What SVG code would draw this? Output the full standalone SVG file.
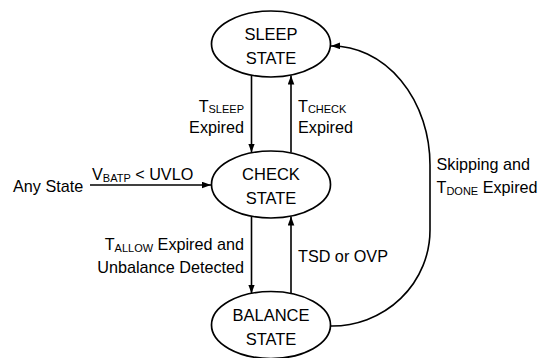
<svg xmlns="http://www.w3.org/2000/svg" width="543" height="358" viewBox="0 0 543 358">
<style>
text{font-family:"Liberation Sans",Arial,sans-serif;fill:#000}
.st{font-size:16.5px;text-anchor:middle}
.lb{font-size:16.2px}
.sub{font-size:11px}
.end{text-anchor:end}
ellipse{fill:#fff;stroke:#000;stroke-width:1.7}
.c{fill:none;stroke:#000;stroke-width:1.6;marker-end:url(#ah)}
</style>
<defs>
<marker id="ah" markerUnits="userSpaceOnUse" markerWidth="10" markerHeight="8" refX="9" refY="3.3" orient="auto">
<path d="M0,0 L9,3.3 L0,6.6 z" fill="#000"/>
</marker>
</defs>
<g id="connectors">
<line class="c" x1="90" y1="185" x2="211" y2="185"/>
<line class="c" x1="251.5" y1="75.5" x2="251.5" y2="152.5"/>
<line class="c" x1="291" y1="152.5" x2="291" y2="75.5"/>
<line class="c" x1="251.5" y1="216.5" x2="251.5" y2="293.5"/>
<line class="c" x1="291" y1="293.5" x2="291" y2="216.5"/>
<path class="c" d="M330.5,326 A98,96 0 0 0 430,230 L430,165 A98,119 0 0 0 331,46"/>
</g>
<g id="sleep">
<ellipse cx="271" cy="44" rx="59.5" ry="33"/>
<text class="st" x="271" y="39.5">SLEEP</text>
<text class="st" x="271" y="63.5">STATE</text>
</g>
<g id="check">
<ellipse cx="271" cy="184.5" rx="59.5" ry="33.5"/>
<text class="st" x="271" y="180">CHECK</text>
<text class="st" x="271" y="204">STATE</text>
</g>
<g id="balance">
<ellipse cx="271" cy="325" rx="59.5" ry="33.5"/>
<text class="st" x="271" y="320.5">BALANCE</text>
<text class="st" x="271" y="344.5">STATE</text>
</g>
<g id="labels">
<text class="lb" x="13" y="191.5">Any State</text>
<text class="lb" x="92" y="180">V<tspan class="sub" dy="1.5">BATP</tspan><tspan dy="-1.5"> &lt; UVLO</tspan></text>
<text class="lb end" x="244" y="111.5">T<tspan class="sub" dy="1.5">SLEEP</tspan></text>
<text class="lb end" x="244" y="133">Expired</text>
<text class="lb" x="298" y="111.5">T<tspan class="sub" dy="1.5">CHECK</tspan></text>
<text class="lb" x="298" y="133">Expired</text>
<text class="lb end" x="244" y="250">T<tspan class="sub" dy="1.5">ALLOW</tspan><tspan dy="-1.5"> Expired and</tspan></text>
<text class="lb end" x="244" y="273">Unbalance Detected</text>
<text class="lb" x="298" y="261.5">TSD or OVP</text>
<text class="lb" x="436.5" y="170">Skipping and</text>
<text class="lb" x="436.5" y="193">T<tspan class="sub" dy="1.5">DONE</tspan><tspan dy="-1.5"> Expired</tspan></text>
</g>
</svg>
